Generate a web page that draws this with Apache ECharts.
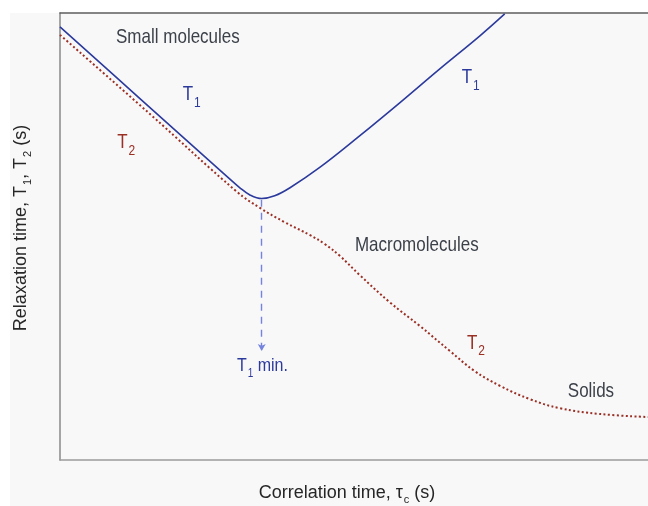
<!DOCTYPE html>
<html>
<head>
<meta charset="utf-8">
<script src="https://cdn.jsdelivr.net/npm/echarts@6/dist/echarts.min.js"></script>
<style>
  html, body { margin: 0; padding: 0; background: #ffffff; }
  #chart { width: 648px; height: 506px; }
</style>
</head>
<body>
<div id="chart"></div>
<script>
// Correlation time (relative log scale) and relaxation time (relative log scale, 0-100)
const t1Tau   = [0, 13.6, 28.0, 30.5, 32.2, 34.2, 36.4, 39.0, 44.1, 50.8, 57.6, 64.4, 71.2, 75.4];
const t1Relax = [96.9, 80.8, 63.8, 60.9, 59.3, 58.5, 59.1, 60.9, 65.5, 72.5, 79.9, 87.5, 94.9, 99.8];

const t2Tau   = [0, 15.25, 30.0, 33.9, 38.1, 42.4, 44.9, 47.5, 50.8, 55.9, 61.0, 66.1, 70.3, 74.6, 79.7, 84.7, 91.5, 100];
const t2Relax = [95.1, 77.4, 60.0, 56.4, 53.2, 50.3, 48.3, 45.6, 41.4, 35.3, 30.0, 24.4, 19.9, 16.6, 13.6, 11.6, 10.3, 9.6];

// T1 minimum and the arrow dropped from it towards the correlation time axis
const t1MinTau = 34.2;
const t1MinRelax = 58.2;
const t1MinArrowEnd = 24.4;

// Annotation texts and where they sit (data coordinates of each text's left / middle)
const annotationTexts = ['Small molecules', 'T1', 'T2', 'T1', 'Macromolecules', 'T2', 'Solids', 'T1min'];
const annotationTau   = [9.5, 20.8, 9.7, 68.1, 50.0, 69.0, 86.1, 30.0];
const annotationRelax = [94.6, 81.7, 71.1, 85.5, 48.1, 26.2, 15.4, 21.0];

const FONT = '"Liberation Sans", Arial, Helvetica, sans-serif';
const BLUE = '#2c3a9c';
const RED = '#9a2f24';
const GREY_TEXT = '#3c4149';

const chart = echarts.init(document.getElementById('chart'), null, { renderer: 'canvas' });

const zip = (xs, ys) => xs.map((x, i) => [x, ys[i]]);

const hiddenAxisParts = {
  axisTick: { show: false }, axisLabel: { show: false }, splitLine: { show: false }
};

chart.setOption({
  animation: false,
  backgroundColor: '#ffffff',
  grid: { left: 60, top: 13, right: 0, bottom: 46, show: false },
  xAxis: [
    Object.assign({
      type: 'value', min: 0, max: 99.7, position: 'bottom',
      axisLine: { show: true, onZero: false, lineStyle: { color: '#9a9a9a', width: 1.5 } }
    }, hiddenAxisParts),
    // top frame line
    Object.assign({
      type: 'value', min: 0, max: 99.7, position: 'top',
      axisLine: { show: true, onZero: false, lineStyle: { color: '#5e5e5e', width: 1.5 } }
    }, hiddenAxisParts)
  ],
  yAxis: Object.assign({
    type: 'value', min: 0, max: 100, position: 'left',
    axisLine: { show: true, onZero: false, lineStyle: { color: '#8a8a8a', width: 1.5 } }
  }, hiddenAxisParts),
  series: [
    {
      name: 'T2',
      type: 'line',
      data: zip(t2Tau, t2Relax),
      showSymbol: false,
      smooth: 0.4,
      lineStyle: { color: RED, width: 2, type: [2, 2.4] },
      z: 3
    },
    {
      name: 'T1',
      type: 'line',
      data: zip(t1Tau, t1Relax),
      showSymbol: false,
      smooth: 0.4,
      lineStyle: { color: BLUE, width: 1.6 },
      z: 4,
      markLine: {
        silent: true,
        symbol: ['none', 'arrow'],
        symbolSize: [6, 7],
        label: { show: false },
        lineStyle: { color: '#7483de', width: 1.4, type: [7, 6] },
        data: [[
          { coord: [t1MinTau, t1MinRelax] },
          { coord: [t1MinTau, t1MinArrowEnd] }
        ]]
      }
    }
  ]
});

// Rich-text styles for letters with subscripts
function subText(letter, sub, color, size, subSize, drop) {
  return {
    text: '{t|' + letter + '}{s|' + sub + '}',
    rich: {
      t: { fontSize: size, fontFamily: FONT, fill: color, color: color },
      s: { fontSize: subSize, fontFamily: FONT, fill: color, color: color, padding: [drop, 0, 0, 1] }
    }
  };
}

function styleFor(key) {
  switch (key) {
    case 'T1': return subText('T', '1', BLUE, 17, 12, 14);
    case 'T2': return subText('T', '2', RED, 17, 12, 14);
    case 'T1min':
      return {
        text: '{t|T}{s|1}{t| min.}',
        rich: {
          t: { fontSize: 16, fontFamily: FONT, fill: BLUE, color: BLUE },
          s: { fontSize: 10, fontFamily: FONT, fill: BLUE, color: BLUE, padding: [13, 0, 0, 1] }
        }
      };
    default:
      return { text: key, fontSize: 17, fontFamily: FONT, fill: GREY_TEXT };
  }
}

const graphics = [
  // light grey page area behind the plot
  {
    type: 'rect', z: -10, silent: true,
    shape: { x: 10, y: 13, width: 640, height: 495 },
    style: { fill: '#f8f8f9' }
  }
];

annotationTexts.forEach((key, i) => {
  const p = chart.convertToPixel({ xAxisIndex: 0, yAxisIndex: 0 }, [annotationTau[i], annotationRelax[i]]);
  const st = styleFor(key);
  graphics.push({
    type: 'text', z: 20, silent: true,
    x: p[0], y: p[1], scaleY: 1.2,
    style: Object.assign({ align: 'left', verticalAlign: 'middle', textAlign: 'left', textVerticalAlign: 'middle' }, st)
  });
});

// Axis titles
graphics.push({
  type: 'text', z: 20, silent: true,
  x: 347, y: 493,
  style: {
    text: '{t|Correlation time, τ}{s|c}{t| (s)}',
    align: 'center', verticalAlign: 'middle', textAlign: 'center', textVerticalAlign: 'middle',
    rich: {
      t: { fontSize: 18, fontFamily: FONT, fill: '#262626', color: '#262626' },
      s: { fontSize: 11, fontFamily: FONT, fill: '#262626', color: '#262626', padding: [13, 0, 0, 1] }
    }
  }
});
graphics.push({
  type: 'text', z: 20, silent: true,
  x: 21, y: 228, rotation: Math.PI / 2,
  style: {
    text: '{t|Relaxation time, T}{s|1}{t|, T}{s|2}{t| (s)}',
    align: 'center', verticalAlign: 'middle', textAlign: 'center', textVerticalAlign: 'middle',
    rich: {
      t: { fontSize: 18, fontFamily: FONT, fill: '#262626', color: '#262626' },
      s: { fontSize: 11, fontFamily: FONT, fill: '#262626', color: '#262626', padding: [13, 0, 0, 1] }
    }
  }
});

chart.setOption({ graphic: graphics });
</script>
</body>
</html>
